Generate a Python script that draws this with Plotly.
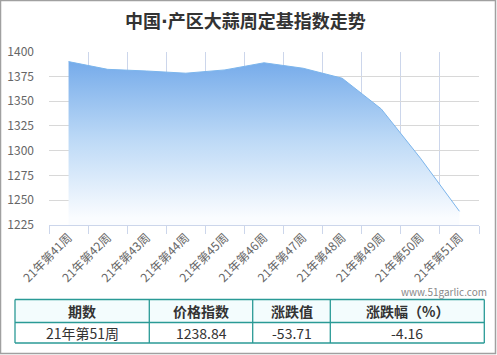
import plotly.graph_objects as go

weeks = ["21年第41周", "21年第42周", "21年第43周", "21年第44周", "21年第45周", "21年第46周",
         "21年第47周", "21年第48周", "21年第49周", "21年第50周", "21年第51周"]
index_values = [1390.0, 1382.2, 1380.5, 1378.3, 1381.6, 1388.8, 1383.3, 1373.2, 1342.2, 1292.55, 1238.84]
y_ticks = [1225, 1250, 1275, 1300, 1325, 1350, 1375, 1400]

table_header = ["期数", "价格指数", "涨跌值", "涨跌幅（%）"]
table_row = ["21年第51周", "1238.84", "-53.71", "-4.16"]

W, H = 497, 355
FONT = "Noto Sans CJK SC"
TEAL = "#2a9a96"

def px(x):
    return x / W

def py(y):
    return 1 - y / H

fig = go.Figure()
fig.add_trace(go.Scatter(
    x=weeks, y=index_values, mode="lines",
    line=dict(color="#7cb5ec", width=1),
    fill="tozeroy",
    fillgradient=dict(type="vertical", start=1232, stop=1392,
                      colorscale=[[0, "rgba(250,252,255,1)"], [0.5, "rgb(188,217,246)"], [1, "rgb(116,170,234)"]]),
    hoverinfo="skip", showlegend=False,
))

# table layout (pixel geometry)
col_edges = [15, 149.3, 252.7, 330.3, 484.3]
row_edges = [299.5, 322.5, 343]

shapes = [
    dict(type="rect", xref="paper", yref="paper", x0=px(0.5), x1=px(495.5), y0=py(353.5), y1=py(0.5),
         line=dict(color="#a0a0a0", width=1.5), layer="below"),
    dict(type="rect", xref="paper", yref="paper", x0=px(col_edges[0]), x1=px(col_edges[-1]),
         y0=py(row_edges[1]), y1=py(row_edges[0]), fillcolor="#f3fcfd", line=dict(width=0), layer="below"),
]
for yy in row_edges:
    shapes.append(dict(type="line", xref="paper", yref="paper", x0=px(col_edges[0]), x1=px(col_edges[-1]),
                       y0=py(yy), y1=py(yy), line=dict(color=TEAL, width=1.3)))
for xx in col_edges:
    shapes.append(dict(type="line", xref="paper", yref="paper", x0=px(xx), x1=px(xx),
                       y0=py(row_edges[-1]), y1=py(row_edges[0]), line=dict(color=TEAL, width=1.3)))

annotations = [
    dict(text="<b>中国<span style=\"font-family:'DejaVu Sans'\">·</span>产区大蒜周定基指数走势</b>",
         x=0.493, y=py(20), xref="paper", yref="paper",
         showarrow=False, font=dict(family=FONT, size=18, color="#333333"), xanchor="center", yanchor="middle"),
    dict(text="www.51garlic.com", x=px(489), y=py(291), xref="paper", yref="paper",
         showarrow=False, font=dict(family=FONT, size=10, color="#888888"), xanchor="right", yanchor="middle"),
]
for i, (h, v) in enumerate(zip(table_header, table_row)):
    cx = (col_edges[i] + col_edges[i + 1]) / 2
    annotations.append(dict(text="<b>%s</b>" % h, x=px(cx), y=py((row_edges[0] + row_edges[1]) / 2),
                            xref="paper", yref="paper", showarrow=False,
                            font=dict(family=FONT, size=14, color="#333333"),
                            xanchor="center", yanchor="middle"))
    annotations.append(dict(text=v, x=px(cx), y=py((row_edges[1] + row_edges[2]) / 2),
                            xref="paper", yref="paper", showarrow=False,
                            font=dict(family=FONT, size=14, color="#333333"),
                            xanchor="center", yanchor="middle"))

fig.update_layout(
    width=W, height=H,
    margin=dict(l=0, r=0, t=0, b=0, autoexpand=False),
    paper_bgcolor="white", plot_bgcolor="white",
    font=dict(family=FONT, size=12, color="#666666"),
    xaxis=dict(domain=[px(49), px(479)], type="category", tickson="boundaries",
               showgrid=True, gridcolor="#ccd6eb", gridwidth=1,
               showline=True, linecolor="#ccd6eb", linewidth=1,
               ticks="outside", ticklen=8, tickcolor="#ccd6eb",
               tickangle=-45, tickfont=dict(size=12, color="#666666"),
               range=[-0.5, 10.5], fixedrange=True, automargin=False),
    yaxis=dict(domain=[py(225), py(51.7)], range=[1225, 1400], tickvals=y_ticks,
               showgrid=True, gridcolor="#d8d8d8", gridwidth=1, zeroline=False,
               ticks="", ticklabelstandoff=14, tickfont=dict(size=12, color="#666666"),
               fixedrange=True, automargin=False),
    annotations=annotations,
    shapes=shapes,
)

fig.write_html("out.html")
